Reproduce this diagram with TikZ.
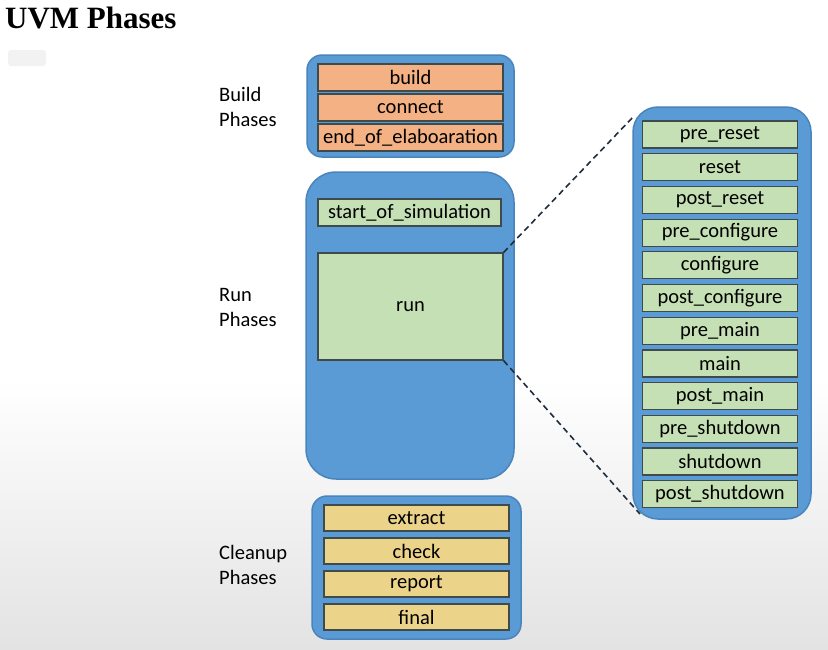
\documentclass[tikz,border=0pt]{standalone}
\usepackage{fontspec}
\setmainfont{Carlito}
\newfontfamily\titlefont{Liberation Serif}
\usepackage{xcolor}
\usetikzlibrary{positioning}

\definecolor{groupfill}{HTML}{5B9BD5}
\definecolor{groupedge}{HTML}{4A84BC}
\definecolor{buildfill}{HTML}{F4B183}
\definecolor{runfill}{HTML}{C5E0B4}
\definecolor{cleanfill}{HTML}{EBD38A}
\definecolor{boxedge}{HTML}{3F4A4A}
\definecolor{zoomedge}{HTML}{1F2D3D}

\tikzset{
	group/.style={draw=groupedge, line width=1.5pt, fill=groupfill, rounded corners=#1, inner sep=0pt},
	phasebox/.style={draw=boxedge, line width=1.2pt, inner sep=0pt, font=\fontsize{20.5}{21}\selectfont},
	buildbox/.style={phasebox, fill=buildfill, minimum width=185pt, minimum height=27pt},
	runbox/.style={phasebox, fill=runfill},
	cleanbox/.style={phasebox, fill=cleanfill, minimum width=185pt, minimum height=26pt},
	grouplabel/.style={align=left, anchor=west, inner sep=0pt, font=\fontsize{20.5}{25}\selectfont},
	zoomline/.style={draw=zoomedge, line width=1.6pt, dash pattern=on 6pt off 4pt}
}

\begin{document}
\begin{tikzpicture}[x=1pt,y=-1pt]
	% background
	\useasboundingbox (0,0) rectangle (828,649);
	\fill[white] (0,0) rectangle (828,380);
	\shade[top color=white, bottom color=black!11] (0,380) rectangle (828,649);
	\fill[black!5, rounded corners=3pt] (8,50) rectangle (46,66);
	
	\node[anchor=base west, inner sep=0pt, font=\titlefont\bfseries\fontsize{31}{31}\selectfont] (title) at (5,28) {UVM Phases};
	
	% containers
	\node[group=15pt, minimum width=207pt, minimum height=102pt] (buildgrp) at (410.5,106) {};
	\node[group=30pt, minimum width=208pt, minimum height=307pt] (rungrp) at (410,325.5) {};
	\node[group=15pt, minimum width=209pt, minimum height=143pt] (cleangrp) at (416.5,567.5) {};
	\node[group=25pt, minimum width=178pt, minimum height=412pt] (subgrp) at (722,313) {};
	
	% build phases
	\node[buildbox] (build) at (410.5,77.5) {build};
	\node[buildbox] (connect) at (410.5,107.5) {connect};
	\node[buildbox] (elab) at (410.5,137.5) {end\_of\_elaboaration};
	\node[grouplabel] (buildlbl) at (219,107) {Build\\Phases};
	
	% run phases
	\node[runbox, minimum width=183pt, minimum height=27pt] (startsim) at (409.5,212.5) {start\_of\_simulation};
	\node[runbox, minimum width=185pt, minimum height=107pt] (run) at (410.5,306.5) {run};
	\node[grouplabel] (runlbl) at (219,307) {Run\\Phases};
	
	\foreach \name [count=\i from 0] in {pre\_reset,reset,post\_reset,pre\_configure,configure,post\_configure,pre\_main,main,post\_main,pre\_shutdown,shutdown,post\_shutdown}
		\node[runbox, minimum width=155pt, minimum height=27pt] (sub\i) at (720,{134.5+32.7*\i}) {\name};
	
	\coordinate (subtop) at (634,116);
	\coordinate (subbot) at (640,514);
	\draw[zoomline] (run.north east) -- (subtop);
	\draw[zoomline] (run.south east) -- (subbot);
	
	% cleanup phases
	\node[cleanbox] (extract) at (416.5,518) {extract};
	\node[cleanbox] (check) at (416.5,551) {check};
	\node[cleanbox] (report) at (416.5,584) {report};
	\node[cleanbox] (final) at (416.5,617) {final};
	\node[grouplabel] (cleanlbl) at (219,565) {Cleanup\\Phases};
\end{tikzpicture}
\end{document}
